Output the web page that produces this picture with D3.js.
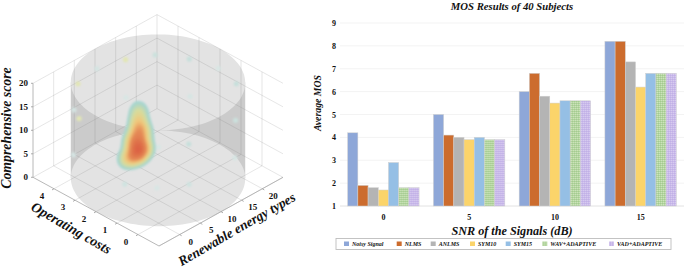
<!DOCTYPE html>
<html>
<head>
<meta charset="utf-8">
<script src="https://cdn.jsdelivr.net/npm/d3@7"></script>
<style>
  html, body { margin: 0; padding: 0; background: #fff; overflow: hidden; }
  text { font-family: "Liberation Serif", serif; font-weight: bold; fill: #111; }
</style>
</head>
<body>
<div id="chart"></div>
<script>
// bar chart data
var snr = ["0", "5", "10", "15"];
var methods = ["Noisy Signal", "NLMS", "ANLMS", "SYM10", "SYM15", "WAV+ADAPTIVE", "VAD+ADAPTIVE"];
var noisy = [4.2, 5, 6, 8.2];
var nlms = [1.9, 4.1, 6.8, 8.2];
var anlms = [1.8, 4, 5.8, 7.3];
var sym10 = [1.7, 3.9, 5.5, 6.2];
var sym15 = [2.9, 4, 5.6, 6.8];
var wavAdaptive = [1.8, 3.9, 5.6, 6.8];
var vadAdaptive = [1.8, 3.9, 5.6, 6.8];
var mosTicks = [1, 2, 3, 4, 5, 6, 7, 8, 9];

// 3d chart data
var renewableTicks = [0, 5, 10, 15, 20];
var costTicks = [0, 1, 2, 3, 4];
var scoreTicks = [0, 5, 10, 15, 20];
// main hot spot: renewable, cost, score, weight
var heatX = [8, 8, 5.6, 10, 8.2, 8.4, 8.4, 8.4, 6.2, 10];
var heatY = [2.6, 2.6, 2.6, 2.6, 2.6, 2.6, 2.6, 2.6, 2.6, 2.6];
var heatZ = [4.2, 6.5, 4.6, 4.6, 9, 11, 13, 14.5, 8, 8];
var heatW = [10, 10, 6, 6, 7, 5, 3, 1.5, 3, 3];
// faint spots on the cylinder
var spotX = [11.3, 15.9, 19.1, 5.9, 20.5, 0.3, 19.3, 3, 11, 3.1, 21.5, 4.4, 21, 16.7, 4.8, 23.5, 4.5, 7.5, 12.2];
var spotY = [3.8, 3.3, 2.3, 4.1, 1.2, 3.9, 0.1, 2.15, 0.67, 4.4, 0.57, 4.9, 2.7, 3.3, 5, 1, 2.5, 1.56, 0.95];
var spotZ = [20, 20, 20, 20, 20, 20, 20, 20, 20, 10, 10, 10, 0, 0, 0, 0, 0, 0, 0];
var spotV = [0.5, 0.25, 0.3, 0.15, 0.1, 0.5, 0.3, 0.1, 0.12, 0.5, 0.25, 0.15, 0.3, 0.1, 0.12, 0.12, 0.2, 0.1, 0.2];

var seriesList = [noisy, nlms, anlms, sym10, sym15, wavAdaptive, vadAdaptive];
var colors = ["#8ea7d8", "#cc6c2d", "#b4b4b4", "#fbd46a", "#95bfe5", "#b4d6a0", "#c9b9ea"];

var svg = d3.select("#chart").append("svg")
  .attr("width", 685)
  .attr("height", 270)
  .style("display", "block");

var defs = svg.append("defs");
defs.append("filter").attr("id", "soft")
  .append("feGaussianBlur").attr("stdDeviation", 0.35);
defs.append("filter").attr("id", "blur1").attr("x", "-20%").attr("y", "-20%").attr("width", "140%").attr("height", "140%")
  .append("feGaussianBlur").attr("stdDeviation", 1.2);
defs.append("filter").attr("id", "blur2").attr("x", "-100%").attr("y", "-100%").attr("width", "300%").attr("height", "300%")
  .append("feGaussianBlur").attr("stdDeviation", 1.3);

// dotted fill for the two hatched series
[5, 6].forEach(function(i) {
  var p = defs.append("pattern").attr("id", "hatch" + i)
    .attr("width", 2).attr("height", 2)
    .attr("patternUnits", "userSpaceOnUse");
  p.append("rect").attr("width", 2).attr("height", 2).attr("fill", colors[i]);
  p.append("rect").attr("width", 1).attr("height", 1).attr("fill", i == 5 ? "#cfe4be" : "#d8cdf0");
  p.append("rect").attr("x", 1).attr("y", 1).attr("width", 1).attr("height", 1).attr("fill", i == 5 ? "#a2c98e" : "#c0afe6");
});

function barFill(i) {
  return i >= 5 ? "url(#hatch" + i + ")" : colors[i];
}

// ---------- left: isometric box ----------
var uScale = d3.scaleLinear().domain([-5, 25]).range([0, 1]);
var vScale = d3.scaleLinear().domain([-1, 5]).range([0, 1]);
var zScale = d3.scaleLinear().domain([0, 20]).range([0, 94]);
var originX = 159, originY = 246;

function proj(x, y, z) {
  var u = uScale(x), v = vScale(y);
  return [originX + 124 * u - 126 * v, originY - 68.7 * u - 68.7 * v - zScale(z)];
}

var left = svg.append("g");
var line = d3.line();

// cylinder
var ring = d3.range(0, 2 * Math.PI + 0.05, 0.05);
function ringPath(z) {
  return line(ring.map(function(t) {
    return proj(10 + 14.8 * Math.cos(t), 2 + 2.96 * Math.sin(t), z);
  })) + "Z";
}
var cylLeft = proj(10 - 14.8 * Math.SQRT1_2, 2 + 2.96 * Math.SQRT1_2, 20.2);
var cylRight = proj(10 + 14.8 * Math.SQRT1_2, 2 - 2.96 * Math.SQRT1_2, -0.2);
left.append("rect")
  .attr("x", cylLeft[0])
  .attr("y", cylLeft[1])
  .attr("width", cylRight[0] - cylLeft[0])
  .attr("height", cylRight[1] - cylLeft[1])
  .attr("fill", "#cbcbcb");
left.append("path").attr("d", ringPath(-0.2)).attr("fill", "#e3e3e3");
left.append("path").attr("d", ringPath(20.2)).attr("fill", "#e3e3e3");

// grid on floor and the two back walls
var gridLines = [];
renewableTicks.forEach(function(x) {
  gridLines.push([proj(x, -1, 0), proj(x, 5, 0), proj(x, 5, 20)]);
});
costTicks.forEach(function(y) {
  gridLines.push([proj(-5, y, 0), proj(25, y, 0), proj(25, y, 20)]);
});
scoreTicks.forEach(function(z) {
  gridLines.push([proj(-5, 5, z), proj(25, 5, z), proj(25, -1, z)]);
});
gridLines.push([proj(25, 5, 0), proj(25, 5, 20)]);
gridLines.push([proj(-5, -1, 0), proj(25, -1, 0)]);

left.selectAll(".grid3d")
  .data(gridLines)
  .enter()
  .append("path")
  .attr("class", "grid3d")
  .attr("d", function(d) { return line(d); })
  .attr("fill", "none")
  .attr("stroke", "rgba(120,120,120,0.24)")
  .attr("stroke-width", 0.8);

// axis edges
left.append("path")
  .attr("d", line([proj(-5, 5, 20), proj(-5, 5, 0), proj(-5, -1, 0), proj(25, -1, 0)]))
  .attr("fill", "none")
  .attr("stroke", "#b0b0b0")
  .attr("stroke-width", 0.9);

// tick marks
scoreTicks.forEach(function(z) {
  var p = proj(-5, 5, z);
  left.append("path").attr("d", line([[p[0] - 2, p[1]], p])).attr("stroke", "#999").attr("stroke-width", 0.8);
  left.append("text").attr("x", p[0] - 5).attr("y", p[1] + 3)
    .attr("text-anchor", "end").style("font-size", "9px").text(z);
});
costTicks.forEach(function(y) {
  var p = proj(-5, y, 0);
  left.append("path").attr("d", line([p, [p[0] - 2, p[1] + 1.2]])).attr("stroke", "#999").attr("stroke-width", 0.8);
  left.append("text").attr("x", p[0] - 12).attr("y", p[1] + 10)
    .attr("text-anchor", "middle").style("font-size", "9px").text(y);
});
renewableTicks.forEach(function(x) {
  var p = proj(x, -1, 0);
  left.append("path").attr("d", line([p, [p[0] + 2, p[1] + 1.2]])).attr("stroke", "#999").attr("stroke-width", 0.8);
  left.append("text").attr("x", p[0] + 11).attr("y", p[1] + 10)
    .attr("text-anchor", "middle").style("font-size", "9px").text(x);
});

// faint spots
var spotColor = d3.scaleLinear().domain([0.1, 0.3, 0.5]).range(["#d8e6e4", "#c6dfdb", "#e2e6b4"]);
left.selectAll(".spot")
  .data(spotX)
  .enter()
  .append("circle")
  .attr("class", "spot")
  .attr("cx", function(d, i) { return proj(d, spotY[i], spotZ[i])[0]; })
  .attr("cy", function(d, i) { return proj(d, spotY[i], spotZ[i])[1]; })
  .attr("r", 2.6)
  .attr("fill", function(d, i) { return spotColor(spotV[i]); })
  .attr("filter", "url(#blur2)");

// hot spot from a weighted density
var heatIdx = d3.range(heatX.length);
var density = d3.contourDensity()
  .x(function(i) { return proj(heatX[i], heatY[i], heatZ[i])[0]; })
  .y(function(i) { return proj(heatX[i], heatY[i], heatZ[i])[1]; })
  .weight(function(i) { return heatW[i]; })
  .size([300, 270])
  .bandwidth(5.5)
  .cellSize(2)
  .thresholds(40)(heatIdx);
var maxD = d3.max(density, function(d) { return d.value; });
var heatColor = d3.scaleLinear()
  .domain([0, 0.1, 0.25, 0.42, 0.62, 1])
  .range(["#b6dcdc", "#a6d5cf", "#d8dc9c", "#f0c77c", "#e58d58", "#dc6444"]);
left.append("g")
  .attr("filter", "url(#blur1)")
  .selectAll("path")
  .data(density.filter(function(d) { return d.value > maxD * 0.08; }))
  .enter()
  .append("path")
  .attr("d", d3.geoPath())
  .attr("fill", function(d) { return heatColor(d.value / maxD); });

// axis titles
left.append("text")
  .attr("transform", "translate(11,128) rotate(-90)")
  .attr("text-anchor", "middle")
  .style("font-size", "13.8px").style("font-style", "italic")
  .text("Comprehensive score");
left.append("text")
  .attr("transform", "translate(69,232) rotate(30)")
  .attr("text-anchor", "middle")
  .style("font-size", "14px").style("font-style", "italic")
  .text("Operating costs");
left.append("text")
  .attr("transform", "translate(239,233) rotate(-30)")
  .attr("text-anchor", "middle")
  .style("font-size", "13.5px").style("font-style", "italic")
  .text("Renewable energy types");

// ---------- right: grouped bars ----------
var x0 = d3.scaleBand().domain(snr).range([340.5, 683.5]).paddingInner(0.167).paddingOuter(0.0835);
var x1 = d3.scaleBand().domain(d3.range(methods.length)).range([0, x0.bandwidth()]);
var y = d3.scaleLinear().domain([1, 9]).range([206, 23]);

var right = svg.append("g");

right.selectAll(".hgrid")
  .data(mosTicks)
  .enter()
  .append("line")
  .attr("class", "hgrid")
  .attr("x1", 340).attr("x2", 684)
  .attr("y1", function(d) { return y(d); })
  .attr("y2", function(d) { return y(d); })
  .attr("stroke", function(d) { return d == 1 ? "#e2e2e2" : "#f3f3f3"; })
  .attr("stroke-width", 1);

var groups = right.selectAll(".group")
  .data(snr)
  .enter()
  .append("g")
  .attr("class", "group")
  .attr("transform", function(d) { return "translate(" + x0(d) + ",0)"; })
  .attr("filter", "url(#soft)");

groups.each(function(d, g) {
  d3.select(this).selectAll("rect")
    .data(seriesList.map(function(s) { return s[g]; }))
    .enter()
    .append("rect")
    .attr("x", function(v, i) { return x1(i); })
    .attr("width", x1.bandwidth())
    .attr("y", function(v) { return y(v); })
    .attr("height", function(v) { return y(1) - y(v); })
    .attr("fill", function(v, i) { return barFill(i); })
    .attr("stroke", "#d0d0d0")
    .attr("stroke-width", 0.5);
});

var yAxis = right.append("g")
  .attr("transform", "translate(340,0)")
  .call(d3.axisLeft(y).tickValues(mosTicks).tickSize(0).tickPadding(4).tickFormat(d3.format("d")));
yAxis.select(".domain").remove();
yAxis.selectAll("text").style("font-size", "8px").style("font-family", "Liberation Serif").style("font-weight", "bold").attr("fill", "#111");

var xAxis = right.append("g")
  .attr("transform", "translate(0,206)")
  .call(d3.axisBottom(x0).tickSize(0).tickPadding(8));
xAxis.select(".domain").remove();
xAxis.selectAll("text").style("font-size", "8px").style("font-family", "Liberation Serif").style("font-weight", "bold").attr("fill", "#111");

right.append("text")
  .attr("x", 512).attr("y", 9.6)
  .attr("text-anchor", "middle")
  .style("font-size", "10.7px").style("font-style", "italic")
  .text("MOS Results of 40 Subjects");
right.append("text")
  .attr("x", 512).attr("y", 235)
  .attr("text-anchor", "middle")
  .style("font-size", "12.2px").style("font-style", "italic")
  .text("SNR of the Signals (dB)");
right.append("text")
  .attr("transform", "translate(321,103) rotate(-90)")
  .attr("text-anchor", "middle")
  .style("font-size", "9.8px").style("font-style", "italic")
  .text("Average MOS");

// legend
right.append("rect")
  .attr("x", 336).attr("y", 238.5)
  .attr("width", 335).attr("height", 11)
  .attr("fill", "#fff")
  .attr("stroke", "#bdbdbd")
  .attr("stroke-width", 0.9);

var legendSwatch = d3.scaleOrdinal().domain(methods).range([344, 396.7, 430.7, 470, 505.7, 542.3, 609]);
var legend = right.selectAll(".legend")
  .data(methods)
  .enter()
  .append("g")
  .attr("class", "legend")
  .attr("transform", function(d) { return "translate(" + legendSwatch(d) + ",241.5)"; });
legend.append("rect")
  .attr("width", 5).attr("height", 4.5)
  .attr("fill", function(d, i) { return barFill(i); });
legend.append("text")
  .attr("x", 8).attr("y", 4.7)
  .style("font-size", "6px").style("font-style", "italic")
  .text(function(d) { return d; });
</script>
</body>
</html>
